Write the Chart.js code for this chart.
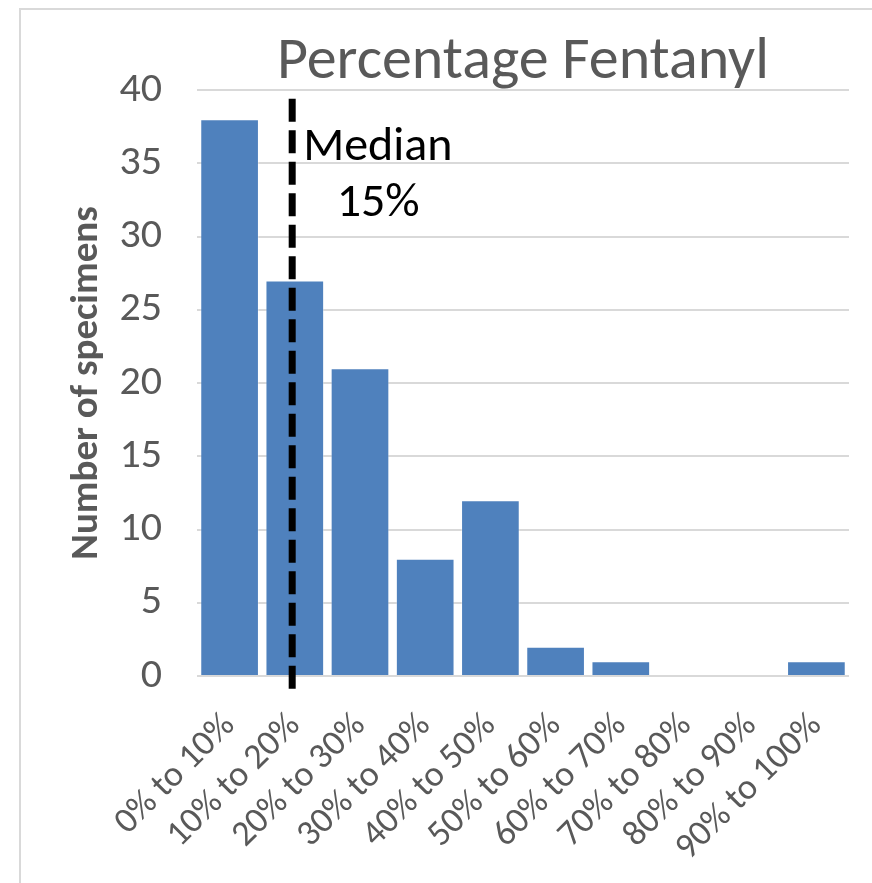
<!DOCTYPE html>
<html>
<head>
<meta charset="utf-8">
<script src="https://cdn.jsdelivr.net/npm/chart.js@4"></script>
<style>
  html, body { margin: 0; padding: 0; background: #fff; }
  #wrap { width: 872px; height: 883px; }
</style>
</head>
<body>
<div id="wrap"><canvas id="histChart" width="872" height="883"></canvas></div>
<script>
const categories = ["0% to 10%", "10% to 20%", "20% to 30%", "30% to 40%", "40% to 50%",
  "50% to 60%", "60% to 70%", "70% to 80%", "80% to 90%", "90% to 100%"];
const specimens = [38, 27, 21, 8, 12, 2, 1, 0, 0, 1];
const yTicks = [0, 5, 10, 15, 20, 25, 30, 35, 40];
const medianIndex = 0.96; // position of 15% on the category axis
const medianLabel = ["Median", "15%"];

const FONT = "Carlito, 'Open Sans', sans-serif";
const GREY = "#595959";

// light frame around the chart (cut off at right/bottom like the screenshot)
const framePlugin = {
  id: "frame",
  beforeDraw(chart) {
    const ctx = chart.ctx;
    ctx.save();
    ctx.strokeStyle = "#d9d9d9";
    ctx.lineWidth = 2;
    ctx.strokeRect(20, 9, chart.width + 20, chart.height + 20);
    ctx.restore();
  }
};

// dashed median line and its label
const medianPlugin = {
  id: "median",
  afterDatasetsDraw(chart) {
    const ctx = chart.ctx;
    const x = chart.scales.x.getPixelForValue(medianIndex);
    const y = chart.scales.y;
    ctx.save();
    ctx.strokeStyle = "#000";
    ctx.lineWidth = 7;
    ctx.setLineDash([23, 8.5]);
    ctx.beginPath();
    ctx.moveTo(x, y.getPixelForValue(39.4));
    ctx.lineTo(x, y.bottom + 17);
    ctx.stroke();
    ctx.setLineDash([]);
    ctx.fillStyle = "#000";
    ctx.font = "48px " + FONT;
    ctx.textBaseline = "alphabetic";
    ctx.textAlign = "left";
    ctx.fillText(medianLabel[0], x + 11, y.getPixelForValue(35.2));
    ctx.textAlign = "center";
    ctx.fillText(medianLabel[1], x + 86, y.getPixelForValue(31.4));
    ctx.restore();
  }
};

new Chart(document.getElementById("histChart"), {
  type: "bar",
  data: {
    labels: categories,
    datasets: [{
      data: specimens,
      backgroundColor: "#4f81bd",
      borderColor: "rgba(255,255,255,0.35)",
      borderWidth: 1,
      barPercentage: 0.9,
      categoryPercentage: 1.0
    }]
  },
  options: {
    responsive: false,
    animation: false,
    layout: { padding: { left: 20, right: 23, top: 0, bottom: 0 } },
    plugins: {
      legend: { display: false },
      tooltip: { enabled: false },
      title: {
        display: true,
        fullSize: false,
        text: "Percentage Fentanyl",
        color: GREY,
        font: { family: FONT, size: 60, weight: "normal", lineHeight: 1 },
        padding: { top: 33, bottom: -3 }
      }
    },
    scales: {
      x: {
        grid: { display: false },
        border: { display: false },
        ticks: {
          color: GREY,
          font: { family: FONT, size: 36 },
          minRotation: 45,
          maxRotation: 45,
          padding: 21,
          autoSkip: false
        },
        afterFit(scale) { scale.height = 207; }
      },
      y: {
        min: 0,
        max: 40,
        afterBuildTicks(scale) { scale.ticks = yTicks.map(v => ({ value: v })); },
        grid: { color: "#d9d9d9", lineWidth: 2, drawTicks: false },
        border: { display: false },
        ticks: {
          color: GREY,
          font: { family: FONT, size: 42 },
          padding: 35
        },
        title: {
          display: true,
          text: "Number of specimens",
          color: GREY,
          font: { family: FONT, size: 39, weight: "bold", lineHeight: 1.2 },
          padding: { top: 44, bottom: 0 }
        },
        afterFit(scale) { scale.width = 177; }
      }
    }
  },
  plugins: [framePlugin, medianPlugin]
});
</script>
</body>
</html>
